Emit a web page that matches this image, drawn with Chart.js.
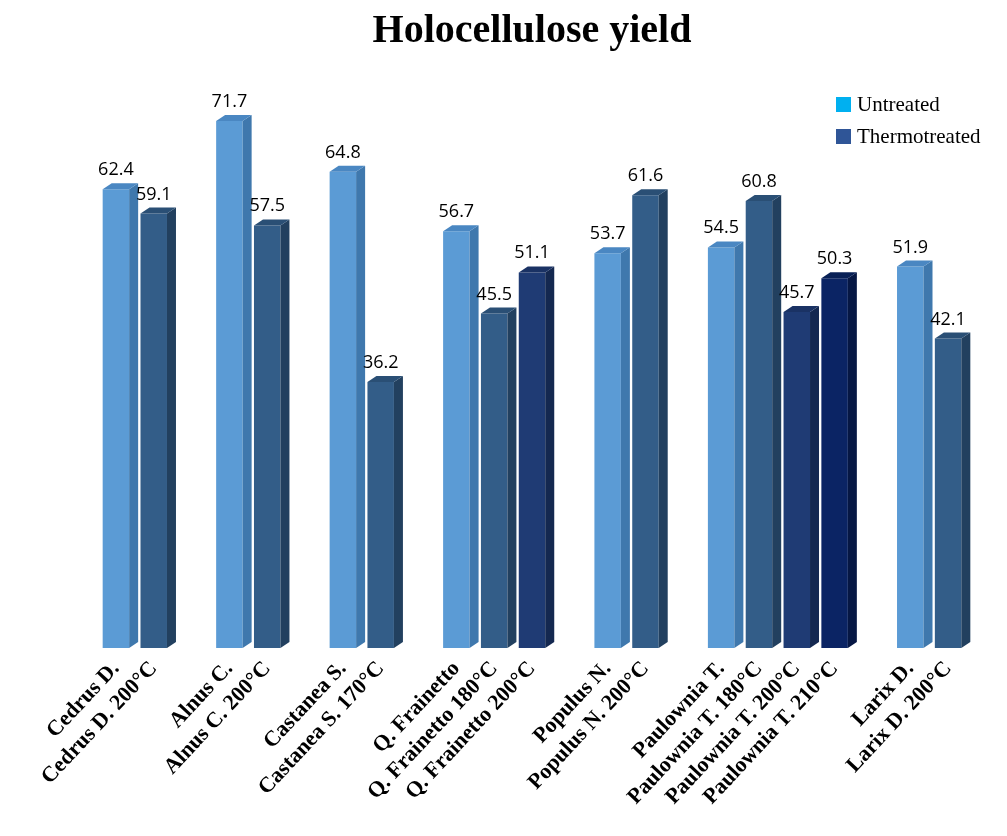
<!DOCTYPE html>
<html lang="en">
<head>
<meta charset="UTF-8">
<title>Holocellulose yield</title>
<script src="https://cdn.jsdelivr.net/npm/chart.js"></script>
<style>
  body { margin: 0; background: #fff; }
  .wrap { position: relative; width: 1007px; height: 836px; }
  .legend { position: absolute; left: 836px; top: 88px; font-family: "Liberation Serif", serif; font-size: 21px; }
  .legend div { display: flex; align-items: center; height: 32px; }
  .legend span { display: inline-block; width: 15px; height: 15px; margin-right: 6px; }
</style>
</head>
<body>
<div class="wrap">
  <canvas id="chart" width="1007" height="836"></canvas>
  <div class="legend">
    <div><span style="background:#00b0f0"></span>Untreated</div>
    <div><span style="background:#2f5597"></span>Thermotreated</div>
  </div>
</div>
<script>
// empty strings are spacer slots between species groups
const categories = ['Cedrus D.', 'Cedrus D. 200°C', '',
  'Alnus C.', 'Alnus C. 200°C', '',
  'Castanea S.', 'Castanea S. 170°C', '',
  'Q. Frainetto', 'Q. Frainetto 180°C', 'Q. Frainetto 200°C', '',
  'Populus N.', 'Populus N. 200°C', '',
  'Paulownia T.', 'Paulownia T. 180°C', 'Paulownia T. 200°C', 'Paulownia T. 210°C', '',
  'Larix D.', 'Larix D. 200°C'];
const values = [62.4, 59.1, null, 71.7, 57.5, null, 64.8, 36.2, null,
  56.7, 45.5, 51.1, null, 53.7, 61.6, null, 54.5, 60.8, 45.7, 50.3, null, 51.9, 42.1];
const shade = [0, 1, 0, 0, 1, 0, 0, 1, 0, 0, 1, 2, 0, 0, 1, 0, 0, 1, 2, 3, 0, 0, 1];

const front = ['#5b9bd5', '#335d88', '#1f3b74', '#0b2464'];
const side = ['#3f78ad', '#22405f', '#142850', '#061744'];
const top_ = ['#4a87c2', '#2a4f75', '#1a3264', '#082056'];

// side + top faces for a fake 3D look, plus value labels
const bars3d = {
  id: 'bars3d',
  afterDatasetsDraw(chart) {
    const ctx = chart.ctx;
    const d = 9, dy = 6;
    chart.getDatasetMeta(0).data.forEach((bar, i) => {
      if (values[i] == null) return;
      const s = shade[i];
      const l = bar.x - bar.width / 2, r = bar.x + bar.width / 2;
      ctx.fillStyle = side[s];
      ctx.beginPath();
      ctx.moveTo(r, bar.y); ctx.lineTo(r + d, bar.y - dy);
      ctx.lineTo(r + d, bar.base - dy); ctx.lineTo(r, bar.base);
      ctx.fill();
      ctx.fillStyle = top_[s];
      ctx.beginPath();
      ctx.moveTo(l, bar.y); ctx.lineTo(r, bar.y);
      ctx.lineTo(r + d, bar.y - dy); ctx.lineTo(l + d, bar.y - dy);
      ctx.fill();
      ctx.fillStyle = '#000';
      ctx.font = '18px "Open Sans", sans-serif';
      ctx.textAlign = 'center';
      ctx.fillText(values[i].toFixed(1), bar.x, bar.y - 14);
    });
  }
};

new Chart(document.getElementById('chart'), {
  type: 'bar',
  data: {
    labels: categories,
    datasets: [{
      data: values,
      backgroundColor: shade.map(s => front[s]),
      barPercentage: 0.7,
      categoryPercentage: 1
    }]
  },
  options: {
    responsive: false,
    animation: false,
    layout: { autoPadding: false, padding: { left: 97, right: 40, top: 8, bottom: 0 } },
    plugins: {
      legend: { display: false },
      tooltip: { enabled: false },
      title: {
        display: true,
        text: 'Holocellulose yield',
        color: '#000',
        font: { family: '"Liberation Serif", serif', size: 40, weight: 'bold' },
        padding: { top: 0, bottom: 4 }
      }
    },
    scales: {
      x: {
        grid: { display: false },
        border: { display: false },
        afterFit(scale) { scale.height = 188; },
        ticks: {
          autoSkip: false,
          minRotation: 47, maxRotation: 47,
          color: '#000',
          font: { family: '"Liberation Serif", serif', size: 22, weight: 'bold' },
          padding: 0
        }
      },
      y: { display: false, min: 0, max: 80 }
    }
  },
  plugins: [bars3d]
});
</script>
</body>
</html>
